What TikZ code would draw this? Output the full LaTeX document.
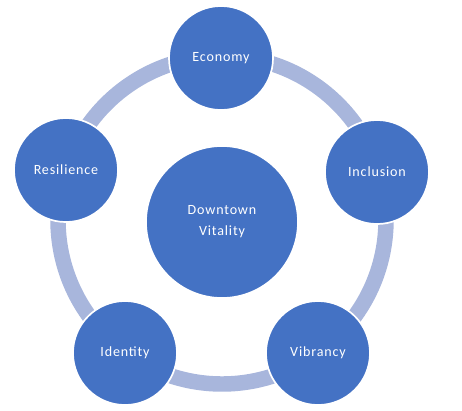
\documentclass[tikz,border=0pt]{standalone}
\usepackage{fontspec}
\setmainfont{Carlito}[LetterSpace=6]
\usepackage{tikz}
\definecolor{nodeblue}{HTML}{4472C4}
\definecolor{ringblue}{HTML}{A8B6DC}
\tikzset{
    pillar/.style={
        circle, fill=nodeblue, draw=white, line width=1.2pt,
        minimum size=#1, inner sep=0pt,
        font=\fontsize{10}{15}\selectfont, text=white, align=center
    },
    pillar/.default=2.6cm,
    ring/.style={
        draw=ringblue, line width=11pt
    },
}

\begin{document}
\begin{tikzpicture}[x=0.025cm, y=-0.025cm]
    \useasboundingbox (0,0) rectangle (462,410);

    % ── Ring behind the pillars ──
    \node[circle, minimum size=8.2cm, inner sep=0pt] (loop) at (222,220) {};
    \draw[ring] (loop.center) circle[radius=164];

    % ── Core ──
    \node[pillar=3.8cm] (core) at (222,222) {Downtown\\Vitality};

    % ── Pillars ──
    \node[pillar] (econ) at (221,58) {Economy};
    \node[pillar] (incl) at (377,172) {Inclusion};
    \node[pillar] (vibr) at (318,353) {Vibrancy};
    \node[pillar] (iden) at (125,353) {Identity};
    \node[pillar] (resi) at (66,170) {Resilience};

\end{tikzpicture}
\end{document}
